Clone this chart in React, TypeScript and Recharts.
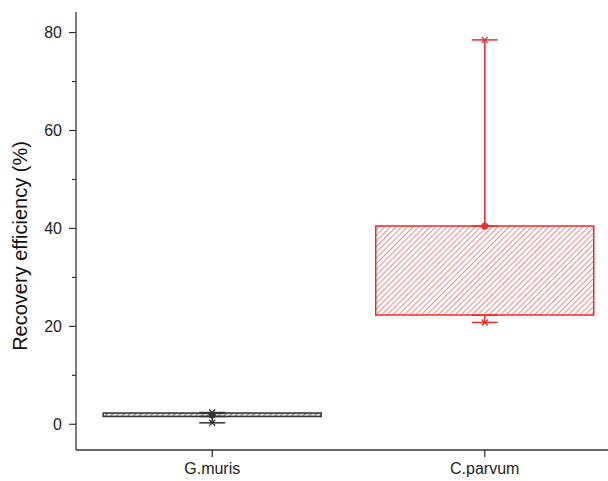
import React from "react";
import { ComposedChart, Bar, Cell, Scatter, ErrorBar, XAxis, YAxis } from "recharts";

const categories = ["G.muris", "C.parvum"];
const whiskerMin = [0.3, 20.8];
const boxLow = [1.6, 22.3];
const boxHigh = [2.3, 40.5];
const whiskerMax = [2.4, 78.5];
const meanVals = [1.9, 40.5];
const colors = ["#333333", "#ee2b2b"];
const hatchIds = ["hatchDark", "hatchRed"];
const yTicks = [0, 10, 20, 30, 40, 50, 60, 70, 80];

const rows = categories.map((name, i) => ({ name, box: [boxLow[i], boxHigh[i]] }));

const upperData = (i: number) => [{ name: categories[i], y: boxHigh[i], err: [0, whiskerMax[i] - boxHigh[i]] }];
const lowerData = (i: number) => [{ name: categories[i], y: boxLow[i], err: [boxLow[i] - whiskerMin[i], 0] }];
const meanData = (i: number) => [{ name: categories[i], y: meanVals[i] }];
const extremeData = (i: number) => [
  { name: categories[i], y: whiskerMin[i] },
  { name: categories[i], y: whiskerMax[i] },
];

const FONT = "'Liberation Sans', Arial, sans-serif";

const YTick = (props: any) => {
  const { x, y, payload } = props;
  const axisX = x + 7;
  const major = payload.value % 20 === 0;
  return (
    <g>
      <line x1={axisX - (major ? 7 : 4)} x2={axisX} y1={y} y2={y} stroke="#333" strokeWidth={1.2} />
      {major && (
        <text x={axisX - 14} y={y} dy="0.35em" textAnchor="end" fontSize={16} fill="#222" fontFamily={FONT}>
          {payload.value}
        </text>
      )}
    </g>
  );
};

const hidden = () => <g />;

const xMark = (color: string) => (props: any) => {
  const { cx, cy } = props;
  return (
    <path d={`M${cx - 3},${cy - 3}L${cx + 3},${cy + 3}M${cx - 3},${cy + 3}L${cx + 3},${cy - 3}`} stroke={color} strokeWidth={1.3} />
  );
};

const meanDot = (color: string) => (props: any) => {
  const { cx, cy } = props;
  return <circle cx={cx} cy={cy} r={3.5} fill={color} />;
};

export default function App() {
  return (
    <div style={{ position: "absolute", left: 0, top: 0, width: 608, height: 481, overflow: "hidden", background: "#fff" }}>
      <ComposedChart width={621} height={481} data={rows} margin={{ top: 12, right: 0, bottom: 1, left: 0 }} barCategoryGap="10%">
        <defs>
          <pattern id="hatchRed" patternUnits="userSpaceOnUse" width={4} height={4} patternTransform="rotate(45)">
            <rect width={4} height={4} fill="#fff" />
            <line x1={0} y1={0} x2={0} y2={4} stroke="#f25555" strokeWidth={1.4} />
          </pattern>
          <pattern id="hatchDark" patternUnits="userSpaceOnUse" width={4} height={4} patternTransform="rotate(45)">
            <rect width={4} height={4} fill="#ddd" />
            <line x1={0} y1={0} x2={0} y2={4} stroke="#444" strokeWidth={1.4} />
          </pattern>
        </defs>
        <XAxis
          dataKey="name"
          type="category"
          allowDuplicatedCategory={false}
          height={30}
          tickSize={7}
          tickMargin={6}
          stroke="#333"
          strokeWidth={1.3}
          tick={{ fontSize: 16, fill: "#222", fontFamily: FONT }}
        />
        <YAxis
          type="number"
          domain={[-5.25, 84.2]}
          ticks={yTicks}
          width={76}
          tickSize={7}
          tickMargin={0}
          tickLine={false}
          tick={<YTick />}
          stroke="#333"
          strokeWidth={1.3}
          interval={0}
          label={(props: any) => {
            const vb = props.viewBox || { x: 0, y: 12, width: 76, height: 438 };
            const cx = vb.x + 20;
            const cy = vb.y + vb.height / 2 + 15;
            return (
              <text x={cx} y={cy} transform={`rotate(-90, ${cx}, ${cy})`} textAnchor="middle" dominantBaseline="central" fontSize={20} fill="#111" fontFamily={FONT}>
                Recovery efficiency (%)
              </text>
            );
          }}
        />
        <Bar dataKey="box" isAnimationActive={false} strokeWidth={1.5}>
          {rows.map((r, i) => (
            <Cell key={r.name} fill={`url(#${hatchIds[i]})`} stroke={colors[i]} />
          ))}
        </Bar>
        {categories.map((c, i) => (
          <Scatter key={`up-${c}`} data={upperData(i)} dataKey="y" shape={hidden} isAnimationActive={false}>
            <ErrorBar dataKey="err" direction="y" width={13} stroke={colors[i]} strokeWidth={1.5} />
          </Scatter>
        ))}
        {categories.map((c, i) => (
          <Scatter key={`low-${c}`} data={lowerData(i)} dataKey="y" shape={hidden} isAnimationActive={false}>
            <ErrorBar dataKey="err" direction="y" width={13} stroke={colors[i]} strokeWidth={1.5} />
          </Scatter>
        ))}
        {categories.map((c, i) => (
          <Scatter key={`ext-${c}`} data={extremeData(i)} dataKey="y" shape={xMark(colors[i])} isAnimationActive={false} />
        ))}
        {categories.map((c, i) => (
          <Scatter key={`mean-${c}`} data={meanData(i)} dataKey="y" shape={meanDot(colors[i])} isAnimationActive={false} />
        ))}
      </ComposedChart>
    </div>
  );
}
